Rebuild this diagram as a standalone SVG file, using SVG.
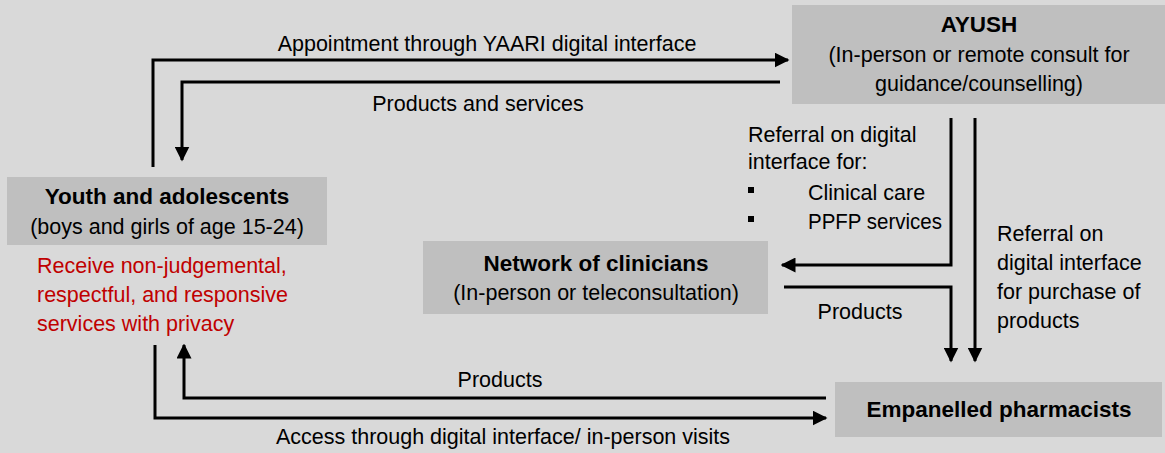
<svg xmlns="http://www.w3.org/2000/svg" width="1165" height="453" viewBox="0 0 1165 453">
<style>
text{font-family:"Liberation Sans",Arial,sans-serif;font-size:21.5px;fill:#000}
.b{font-weight:bold;font-size:22.5px}
.c{text-anchor:middle}
.red{fill:#c00000}
.box{fill:#bfbfbf}
.ln{fill:none;stroke:#000;stroke-width:3}
</style>
<defs>
<marker id="ah" viewBox="0 0 10 10" refX="9" refY="5" markerWidth="5" markerHeight="5" markerUnits="strokeWidth" orient="auto">
<path d="M0,0 L10,5 L0,10 Z" fill="#000"/>
</marker>
</defs>
<rect width="1165" height="453" fill="#d9d9d9"/>
<g id="ayush">
<rect class="box" x="792" y="5" width="373" height="99"/>
<text class="b c" x="979" y="32">AYUSH</text>
<text class="c" x="979" y="62">(In-person or remote consult for</text>
<text class="c" x="979" y="91">guidance/counselling)</text>
</g>
<g id="youth">
<rect class="box" x="7" y="177" width="320" height="68"/>
<text class="b c" x="167" y="204">Youth and adolescents</text>
<text class="c" x="167" y="234">(boys and girls of age 15-24)</text>
<text class="red" x="37" y="273">Receive non-judgemental,</text>
<text class="red" x="37" y="302">respectful, and responsive</text>
<text class="red" x="37" y="331">services with privacy</text>
</g>
<g id="network">
<rect class="box" x="423" y="241" width="345" height="73"/>
<text class="b c" x="596" y="271">Network of clinicians</text>
<text class="c" x="596" y="300">(In-person or teleconsultation)</text>
</g>
<g id="pharma">
<rect class="box" x="835" y="382" width="327" height="55"/>
<text class="b c" x="999" y="417">Empanelled pharmacists</text>
</g>
<g id="connectors">
<path class="ln" d="M153,167 V60 H788" marker-end="url(#ah)"/>
<path class="ln" d="M780,82 H182 V160" marker-end="url(#ah)"/>
<path class="ln" d="M951,118 V265 H782" marker-end="url(#ah)"/>
<path class="ln" d="M975,118 V361" marker-end="url(#ah)"/>
<path class="ln" d="M784,287 H951 V361" marker-end="url(#ah)"/>
<path class="ln" d="M826,398 H184 V345" marker-end="url(#ah)"/>
<path class="ln" d="M155,345 V418 H826" marker-end="url(#ah)"/>
</g>
<g id="labels">
<text class="c" x="487" y="51">Appointment through YAARI digital interface</text>
<text class="c" x="478" y="111">Products and services</text>
<text x="748" y="142">Referral on digital</text>
<text x="748" y="169">interface for:</text>
<rect x="748" y="187" width="6" height="6" fill="#000"/>
<rect x="748" y="216" width="6" height="6" fill="#000"/>
<text x="808" y="200">Clinical care</text>
<text x="808" y="229" textLength="134" lengthAdjust="spacingAndGlyphs">PPFP services</text>
<text x="997" y="241">Referral on</text>
<text x="997" y="270">digital interface</text>
<text x="997" y="299">for purchase of</text>
<text x="997" y="328">products</text>
<text class="c" x="860" y="319">Products</text>
<text class="c" x="500" y="387">Products</text>
<text class="c" x="503" y="444">Access through digital interface/ in-person visits</text>
</g>
</svg>
